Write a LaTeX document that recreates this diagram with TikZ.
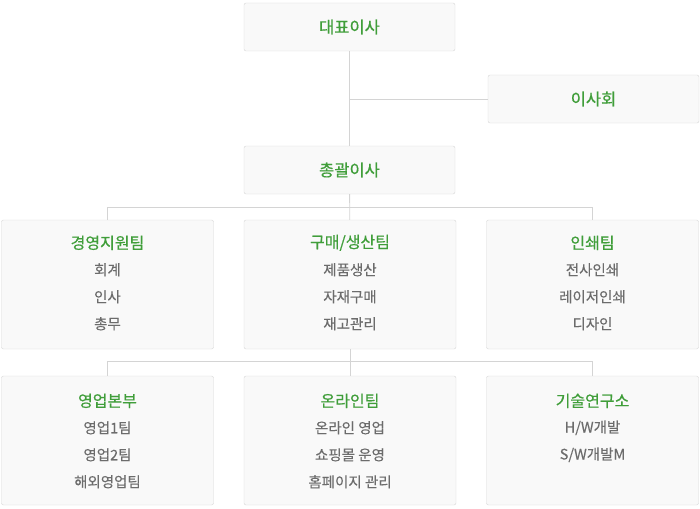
\documentclass[tikz,border=0pt]{standalone}
\usepackage{fontspec}
\setmainfont{Noto Sans CJK KR}
\newfontfamily\titlefont[FakeBold=0.6]{Noto Sans CJK KR}
\newfontfamily\itemfont[FakeBold=0.3]{Noto Sans CJK KR}
\usetikzlibrary{positioning}

\definecolor{titlegreen}{RGB}{64,158,58}
\definecolor{itemgray}{RGB}{108,108,108}
\definecolor{boxline}{RGB}{214,214,214}
\definecolor{boxfill}{RGB}{249,249,249}
\definecolor{linkgray}{RGB}{212,212,212}

\tikzset{
  box/.style={draw=boxline,fill=boxfill,rounded corners=2pt,minimum width=211pt,minimum height=48pt,inner sep=0pt,
    text=titlegreen,font=\titlefont\fontsize{16.5}{19}\selectfont},
  team/.style={box,minimum width=212pt,minimum height=129pt},
  teamname/.style={text=titlegreen,font=\titlefont\fontsize{16}{19}\selectfont,inner sep=0pt},
  item/.style={text=itemgray,font=\itemfont\fontsize{14.5}{17}\selectfont,inner sep=0pt},
  link/.style={draw=linkgray,line width=0.8pt}
}

\begin{document}
\begin{tikzpicture}[x=1pt,y=-1pt]
  \useasboundingbox (0,0) rectangle (700,508);

  % top
  \node[box] (ceo) at (349.5,27) {대표이사};
  \node[box] (board) at (593.5,99) {이사회};
  \node[box] (gm) at (349.5,170) {총괄이사};

  % teams
  \node[team] (mgmt) at (107.5,284.5) {};
  \node[team] (purchase) at (350,284.5) {};
  \node[team] (print) at (592.5,284.5) {};
  \node[team] (sales) at (107.5,440.5) {};
  \node[team] (online) at (350,440.5) {};
  \node[team] (lab) at (592.5,440.5) {};

  % links
  \draw[link] (ceo) -- (gm);
  \draw[link] (ceo.south |- board.west) -- (board.west);
  \draw[link] (gm) -- (purchase);
  \draw[link] (mgmt.north) -- ++(0,-12) -| (print.north);
  \draw[link] (purchase) -- (online);
  \draw[link] (sales.north) -- ++(0,-14) -| (lab.north);

  % team names and items
  \node[teamname] (mgmt-t) at ([yshift=-23pt]mgmt.north) {경영지원팀};
  \foreach \t [count=\i] in {회계,인사,총무}
    \node[item] (mgmt-\i) at ([yshift=-23pt-27*\i pt]mgmt.north) {\t};

  \node[teamname] (purchase-t) at ([yshift=-23pt]purchase.north) {구매/생산팀};
  \foreach \t [count=\i] in {제품생산,자재구매,재고관리}
    \node[item] (purchase-\i) at ([yshift=-23pt-27*\i pt]purchase.north) {\t};

  \node[teamname] (print-t) at ([yshift=-23pt]print.north) {인쇄팀};
  \foreach \t [count=\i] in {전사인쇄,레이저인쇄,디자인}
    \node[item] (print-\i) at ([yshift=-23pt-27*\i pt]print.north) {\t};

  \node[teamname] (sales-t) at ([yshift=-25pt]sales.north) {영업본부};
  \foreach \t [count=\i] in {영업1팀,영업2팀,해외영업팀}
    \node[item] (sales-\i) at ([yshift=-25pt-27*\i pt]sales.north) {\t};

  \node[teamname] (online-t) at ([yshift=-25pt]online.north) {온라인팀};
  \foreach \t [count=\i] in {온라인 영업,쇼핑몰 운영,홈페이지 관리}
    \node[item] (online-\i) at ([yshift=-25pt-27*\i pt]online.north) {\t};

  \node[teamname] (lab-t) at ([yshift=-25pt]lab.north) {기술연구소};
  \foreach \t [count=\i] in {H/W개발,S/W개발M}
    \node[item] (lab-\i) at ([yshift=-25pt-27*\i pt]lab.north) {\t};
\end{tikzpicture}
\end{document}
